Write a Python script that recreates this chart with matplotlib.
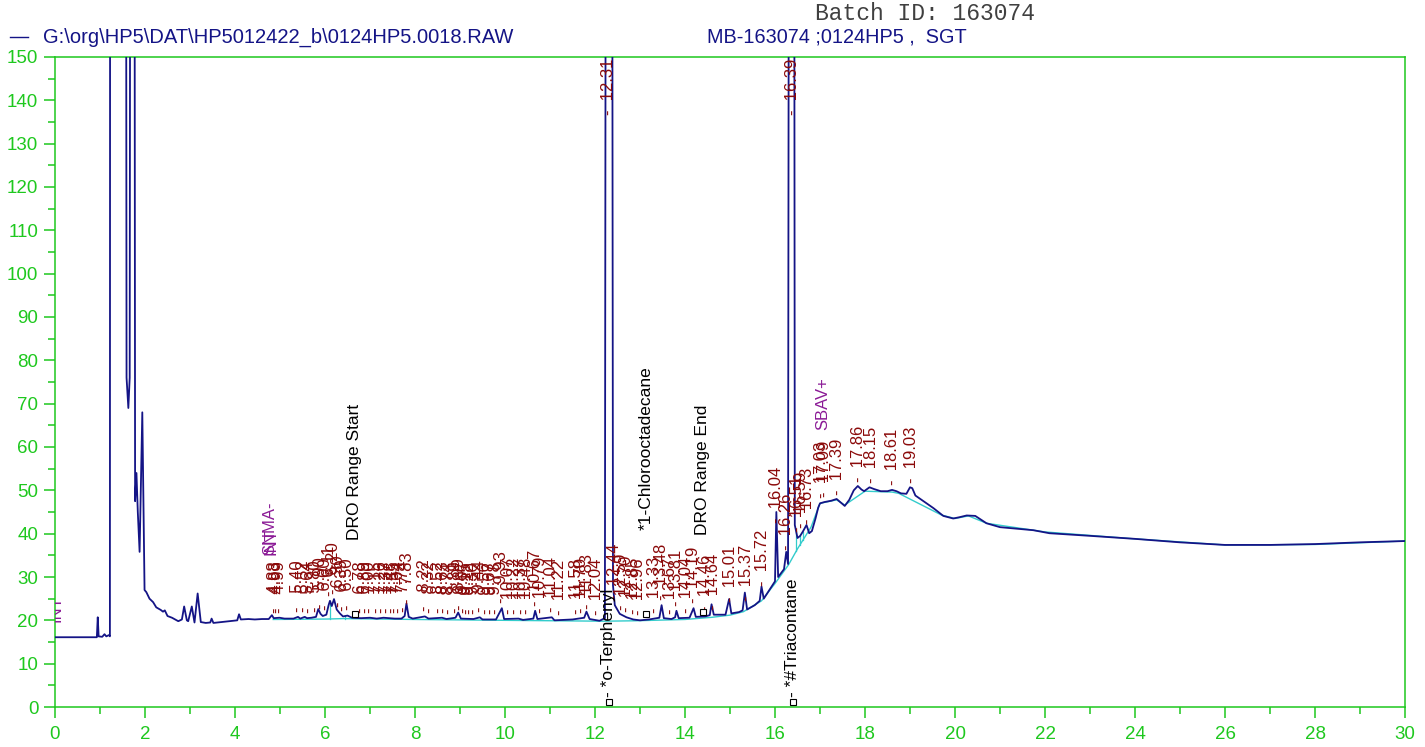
import numpy as np
import matplotlib
matplotlib.use("Agg")
import matplotlib.pyplot as plt

plt.rcParams['font.family'] = ['Liberation Sans', 'DejaVu Sans']

# ---------------------------------------------------------------
# trace of the chromatogram (time in min, signal)
# values above 150 are off scale
trace_t = [0.00, 0.93, 0.95, 0.97, 1.05, 1.10, 1.14, 1.20, 1.22, 1.23, 1.56, 1.59, 1.63, 1.66, 1.69, 1.75,
           1.78, 1.81, 1.84, 1.88, 1.94, 1.99, 2.03, 2.10, 2.18, 2.25, 2.35, 2.40, 2.44, 2.50, 2.60, 2.74,
           2.82, 2.87, 2.93, 2.96, 3.04, 3.10, 3.17, 3.24, 3.35, 3.45, 3.48, 3.52, 3.70, 3.90, 4.05, 4.09,
           4.13, 4.30, 4.44, 4.60, 4.75, 4.82, 4.86, 4.99, 5.10, 5.30, 5.40, 5.45, 5.55, 5.60, 5.70, 5.80,
           5.85, 5.90, 5.95, 6.03, 6.08, 6.11, 6.15, 6.20, 6.26, 6.33, 6.40, 6.50, 6.60, 6.80, 7.00, 7.15,
           7.30, 7.55, 7.70, 7.77, 7.81, 7.86, 7.95, 8.22, 8.30, 8.60, 8.70, 8.90, 8.96, 9.02, 9.30, 9.44,
           9.50, 9.80, 9.93, 9.98, 10.30, 10.40, 10.63, 10.67, 10.72, 11.04, 11.10, 11.50, 11.76, 11.81, 11.88, 12.10,
           12.22, 12.26, 12.36, 12.40, 12.44, 12.55, 12.70, 12.85, 13.00, 13.20, 13.43, 13.48, 13.53, 13.70, 13.78, 13.81,
           13.86, 14.10, 14.19, 14.24, 14.45, 14.55, 14.59, 14.64, 14.90, 14.98, 15.03, 15.20, 15.28, 15.33, 15.38, 15.55,
           15.66, 15.70, 15.75, 15.95, 16.00, 16.03, 16.07, 16.20, 16.25, 16.29, 16.33, 16.41, 16.44, 16.50, 16.56, 16.62,
           16.70, 16.76, 16.82, 16.90, 16.96, 17.00, 17.10, 17.25, 17.37, 17.45, 17.55, 17.65, 17.75, 17.84, 17.92, 17.98,
           18.10, 18.20, 18.35, 18.50, 18.60, 18.70, 18.80, 18.92, 19.00, 19.05, 19.12, 19.30, 19.52, 19.74, 19.96, 20.10,
           20.26, 20.45, 20.70, 21.00, 21.74, 22.10, 23.00, 24.00, 25.00, 26.00, 27.00, 28.00, 29.00, 30.00]
trace_y = [16.1, 16.1, 20.7, 16.3, 16.2, 16.8, 16.3, 16.6, 16.3, 400, 400, 76, 69, 76, 400, 400,
           47.5, 54, 45, 35.8, 68, 27, 26.5, 25.0, 24.2, 23.0, 22.4, 22.0, 22.3, 21.0, 20.6, 19.8,
           20.2, 23.2, 20.0, 19.8, 23.2, 19.5, 26.2, 19.6, 19.4, 19.5, 20.4, 19.4, 19.6, 19.8, 20.0, 21.4,
           20.2, 20.3, 20.2, 20.3, 20.3, 21.2, 20.5, 20.6, 20.4, 20.4, 20.8, 20.4, 20.8, 20.5, 20.6, 20.8,
           22.6, 21.5, 21.0, 21.3, 23.5, 24.5, 23.3, 24.9, 22.5, 21.6, 20.9, 21.1, 20.6, 20.5, 20.6, 20.4,
           20.6, 20.4, 20.4, 21.0, 23.9, 20.8, 20.4, 20.9, 20.4, 20.6, 20.3, 20.6, 21.8, 20.4, 20.3, 20.7,
           20.2, 20.2, 22.8, 20.3, 20.4, 20.1, 20.4, 22.2, 20.3, 20.7, 20.0, 20.2, 20.6, 22.0, 20.3, 19.9,
           20.5, 400, 400, 28, 23.5, 21.5, 20.7, 20.2, 20.0, 20.2, 20.6, 23.5, 20.5, 20.3, 20.7, 22.2,
           20.5, 20.6, 22.8, 20.8, 20.9, 21.2, 23.7, 21.3, 21.3, 24.9, 21.6, 21.9, 22.3, 26.4, 22.5, 23.5,
           24.5, 27.8, 25.0, 28.2, 29.0, 45.0, 30.0, 31.8, 35.8, 33.0, 400, 400, 42, 39.0, 39.5, 40.5,
           42.0, 40.1, 40.6, 43.5, 46.0, 47.0, 47.3, 47.6, 48.0, 47.3, 46.4, 47.8, 50.0, 51.0, 50.2, 49.8,
           50.7, 50.3, 49.8, 49.8, 50.1, 49.8, 49.3, 49.2, 50.7, 50.5, 48.8, 47.5, 45.9, 44.1, 43.5, 43.8,
           44.2, 44.1, 42.4, 41.5, 40.8, 40.1, 39.5, 38.8, 38.0, 37.4, 37.4, 37.6, 38.0, 38.3]

# integration baseline
base_t = [4.85, 6.05, 6.40, 8.00, 10.00, 12.20, 12.90, 14.00, 14.60, 15.00, 15.30, 15.70, 16.00, 16.30, 16.50,
          16.80, 17.00, 17.37, 17.55, 18.00, 18.60, 18.75, 19.70, 20.00, 20.30, 20.70, 22.00, 24.00, 26.00, 28.00, 30.00]
base_y = [20.2, 20.3, 20.4, 20.2, 20.0, 19.8, 19.9, 20.2, 20.7, 21.2, 22.0, 24.5, 28.5, 32.8, 36.5,
          41.5, 47.0, 47.8, 46.6, 49.8, 49.6, 49.3, 44.3, 43.5, 44.1, 42.4, 40.4, 38.8, 37.4, 37.5, 38.3]
drop_t = [6.11, 6.45, 16.47, 16.55, 16.62]

# peak retention times
peak_rt = [4.88, 4.93, 4.99, 5.40, 5.52, 5.64, 5.80, 5.90, 6.00, 6.11, 6.20, 6.30, 6.39, 6.50, 6.78, 6.89,
           7.00, 7.15, 7.26, 7.37, 7.48, 7.55, 7.64, 7.74, 7.83, 8.22, 8.32, 8.52, 8.63, 8.74, 8.89, 8.99,
           9.07, 9.15, 9.22, 9.30, 9.44, 9.56, 9.67, 9.78, 9.93, 10.07, 10.22, 10.37, 10.48, 10.67, 10.79, 11.04,
           11.22, 11.58, 11.70, 11.83, 12.04, 12.31, 12.44, 12.59, 12.70, 12.85, 12.96, 13.33, 13.48, 13.67, 13.81, 14.04,
           14.19, 14.46, 14.64, 15.01, 15.37, 15.72, 16.04, 16.26, 16.39, 16.51, 16.59, 16.73, 17.03, 17.09, 17.39, 17.86,
           18.15, 18.61, 19.03]

# named compounds / events (black)
comp_names = ["DRO Range Start", "- *o-Terphenyl", "*1-Chlorooctadecane", "DRO Range End", "- *#Triacontane"]
comp_t = [6.66, 12.31, 13.13, 14.40, 16.39]
comp_mark_y = [21.5, 1.2, 21.5, 22.0, 1.2]
comp_text_y = [38.5, 2.2, 40.8, 39.7, 2.2]

# integration events (purple)
event_names = ["INT", "SNMA-", "INT", "SBAV+"]
event_t = [0.02, 4.78, 4.80, 17.07]
event_y = [19.5, 35.0, 35.0, 64.0]

# ---------------------------------------------------------------
green = '#1ec81e'
navy = '#141486'
cyan = '#33cccc'
dred = '#8b0a0a'
purple = '#8b1a96'

fig = plt.figure(figsize=(14.25, 7.47), dpi=100)
ax = fig.add_axes([55/1425, 1-707/747, 1350/1425, 650/747])

ax.plot(base_t, base_y, color=cyan, lw=1.0, zorder=2)
for t in drop_t:
    ax.plot([t, t], [np.interp(t, base_t, base_y), np.interp(t, trace_t, trace_y)], color=cyan, lw=0.9, zorder=2)
ax.plot(trace_t, trace_y, color=navy, lw=1.3, zorder=3)

for rt in peak_rt:
    y = min(np.interp(rt, trace_t, trace_y), 135.5) + 1.2
    ax.text(rt, y, "-  %5.2f" % rt, rotation=90, ha='center', va='bottom', color=dred, fontsize=12, zorder=4)

for name, t, my, ty in zip(comp_names, comp_t, comp_mark_y, comp_text_y):
    ax.plot([t], [my], marker='s', ms=4.5, mfc='white', mec='black', mew=0.8, zorder=5)
    ax.text(t, ty, name, rotation=90, ha='center', va='bottom', color='black', fontsize=12.5, zorder=5)

for name, t, y in zip(event_names, event_t, event_y):
    ax.text(t, y, name, rotation=90, ha='center', va='bottom', color=purple, fontsize=12, zorder=5,
            clip_on=True)

ax.set_xlim(0, 30)
ax.set_ylim(0, 150)
ax.set_xticks(np.arange(0, 31, 2))
ax.set_xticks(np.arange(1, 30, 2), minor=True)
ax.set_yticks(np.arange(0, 151, 10))
ax.set_yticks(np.arange(5, 150, 10), minor=True)
ax.tick_params(which='major', length=8, width=1.1, color=green, labelcolor=green, labelsize=13.5, pad=4)
ax.tick_params(which='minor', length=5, width=1.1, color=green)
ax.tick_params(axis='x', which='major', pad=6)
for s in ax.spines.values():
    s.set_color(green)
    s.set_linewidth(1.1)

# header
fig.lines.append(plt.Line2D([10/1425, 28/1425], [1-37/747, 1-37/747], color=navy, lw=1.0,
                            transform=fig.transFigure))
fig.text(43/1425, 1-37/747, r"G:\org\HP5\DAT\HP5012422_b\0124HP5.0018.RAW", color=navy, fontsize=14.5,
         ha='left', va='center')
fig.text(707/1425, 1-37/747, "MB-163074 ;0124HP5 ,  SGT", color=navy, fontsize=14.3, ha='left', va='center')
fig.text(815/1425, 1-14/747, "Batch ID: 163074", color='#404040', fontsize=16.6, family='Liberation Mono',
         ha='left', va='center')

fig.savefig("out.png", dpi=100)
